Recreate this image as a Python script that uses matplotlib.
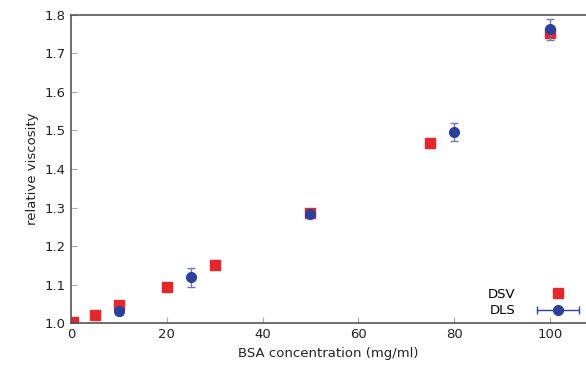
import numpy as np
import matplotlib
matplotlib.use("Agg")
import matplotlib.pyplot as plt
from matplotlib.legend_handler import HandlerErrorbar

# DSV measurements
dsv_conc = [0.5, 5, 10, 20, 30, 50, 75, 100]
dsv_visc = [1.003, 1.021, 1.047, 1.095, 1.151, 1.286, 1.468, 1.754]

# DLS measurements with error bars
dls_conc = [10, 25, 50, 80, 100]
dls_visc = [1.032, 1.119, 1.284, 1.496, 1.762]
dls_err = [0.010, 0.025, 0.008, 0.024, 0.026]

red = '#e8262a'
blue = '#2b3f9c'
ebar = '#6a78c0'

fig = plt.figure(figsize=(5.86, 3.71), dpi=100)
ax = fig.add_axes([0.121, 0.129, 0.879, 0.831])

h_dsv, = ax.plot(dsv_conc, dsv_visc, 's', color=red, markersize=7, label='DSV', zorder=2)
ax.errorbar(dls_conc, dls_visc, yerr=dls_err, fmt='o', color=blue, markersize=7,
            ecolor=ebar, elinewidth=1, capsize=3, zorder=3)
# legend entry drawn with a horizontal bar, like the original
h_dls = ax.errorbar([np.nan], [np.nan], xerr=[1], fmt='o', color=blue, markersize=7,
                    ecolor=blue, elinewidth=1, capsize=3)

ax.set_xlim(0, 107.5)
ax.set_ylim(1.0, 1.8)
ax.set_xticks([0, 20, 40, 60, 80, 100])
ax.set_yticks(np.arange(1.0, 1.81, 0.1))
ax.yaxis.set_major_formatter(matplotlib.ticker.FormatStrFormatter('%.1f'))
ax.tick_params(direction='in', length=4, color='#aaaaaa', labelsize=9.5,
               labelcolor='#222222', right=False, top=False)

ax.spines['right'].set_visible(False)
for s in ['left', 'bottom', 'top']:
    ax.spines[s].set_color('#555555')
    ax.spines[s].set_linewidth(1.2)

ax.set_xlabel('BSA concentration (mg/ml)', fontsize=9.5, color='#222222')
ax.set_ylabel('relative viscosity', fontsize=9.5, color='#222222')

ax.legend([h_dsv, h_dls], ['DSV', 'DLS'], loc='lower right', frameon=False,
          fontsize=9.5, markerfirst=False, handlelength=3.3, handletextpad=1.6,
          labelspacing=0.25, borderaxespad=0.05, borderpad=0.4,
          handler_map={type(h_dls): HandlerErrorbar(xerr_size=1.6)})

fig.savefig('out.png', dpi=100)
